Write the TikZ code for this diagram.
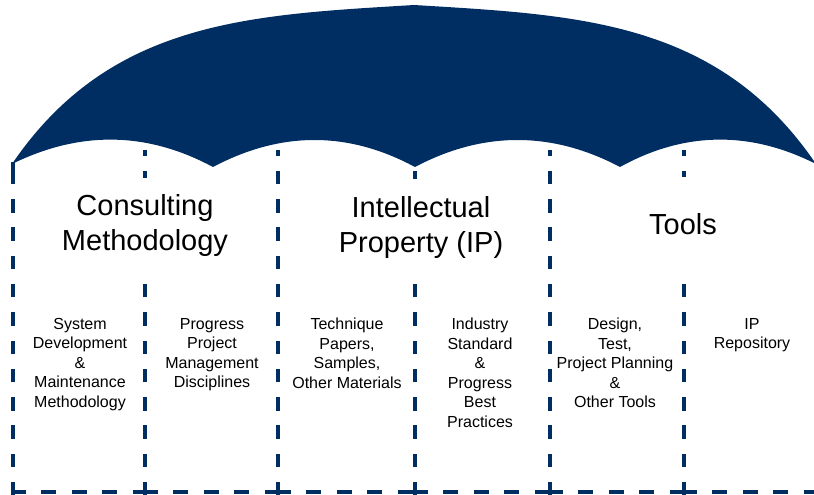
\documentclass[tikz,border=0pt]{standalone}
\usepackage{fontspec}
\setmainfont{Liberation Sans}
\usepackage{tikz}
\usetikzlibrary{positioning}
\usepackage{xcolor}
\definecolor{umbnavy}{RGB}{0,45,98}
\tikzstyle{divider} = [line width=4pt, color=umbnavy, dash pattern=on 13.5pt off 14.8pt]
\tikzstyle{baseline} = [line width=4pt, color=umbnavy]
\tikzstyle{heading} = [align=center, fill=white, inner sep=4pt, minimum height=96pt, font=\fontsize{29}{35}\selectfont]
\tikzstyle{item} = [align=center, anchor=north, inner sep=0pt, font=\fontsize{16}{19.5}\selectfont]

\begin{document}
\begin{tikzpicture}[x=1pt,y=-1pt]
\useasboundingbox (0,0) rectangle (814,495);

\foreach \x/\top in {13/170,145/150,278/150,415/150,550/150,684/150}
  \draw[divider] (\x,495.5) -- (\x,\top);
\draw[baseline] (13,162) -- (13,172);

\draw[baseline] (11,492) -- (25.5,492);
\foreach \x in {145,278,415,550,684,816}
  \draw[baseline] (\x-12.5,492) -- (\x+12.5,492);
\foreach \xa/\xb in {13/145,145/278,278/415,415/550,550/684,684/816}
  \draw[baseline, dash pattern=on 15pt off 15.5pt, dash phase=15pt] (\xa+12.5,492) -- (\xb-12.5,492);

\fill[umbnavy] (12,164) .. controls (110,20) and (250,15) .. (414,5)
  .. controls (578,15) and (718,20) .. (816,164)
  .. controls (751,131) and (685,131) .. (620,167)
  .. controls (552,131) and (483,131) .. (415,167)
  .. controls (348,131) and (281,131) .. (213,167)
  .. controls (146,131) and (79,131) .. (12,164) -- cycle;

\node[heading] (consult) at (145,226) {Consulting\\Methodology};
\node[heading] (intprop) at (421,227) {Intellectual\\Property (IP)};
\node[heading] (tools) at (683,224.5) {Tools};

\node[item] (sysdev) at (80,318) {System\\Development\\\&\\Maintenance\\Methodology};
\node[item] (progpm) at (212,318) {Progress\\Project\\Management\\Disciplines};
\node[item] (techpap) at (347,318) {Technique\\Papers,\\Samples,\\Other Materials};
\node[item] (indstd) at (480,318) {Industry\\Standard\\\&\\Progress\\Best\\Practices};
\node[item] (design) at (615,318) {Design,\\Test,\\Project Planning\\\&\\Other Tools};
\node[item] (iprepo) at (752,318) {IP\\Repository};
\end{tikzpicture}
\end{document}
